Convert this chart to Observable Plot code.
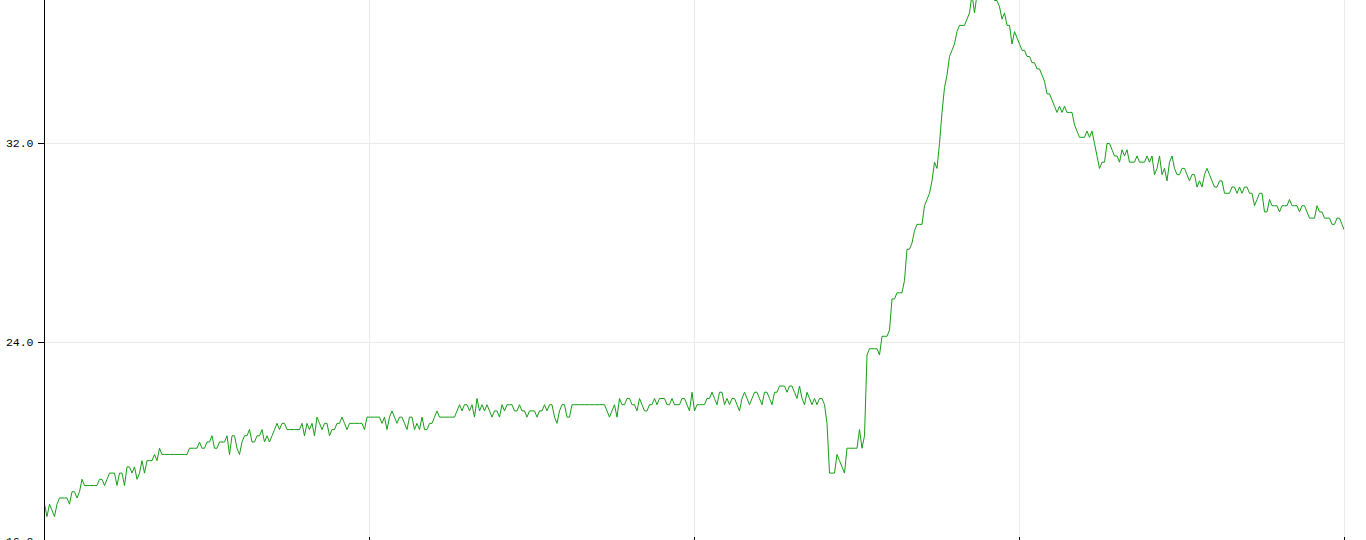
<!DOCTYPE html>
<html><head><meta charset="utf-8">
<script src="https://cdn.jsdelivr.net/npm/d3@7"></script>
<script src="https://cdn.jsdelivr.net/npm/@observablehq/plot@0.6"></script>
<style>html,body{margin:0;padding:0;background:#fff;overflow:hidden}</style>
</head><body><div id="chart"></div>
<script>
// temperature readings, one per sample
const temps = [
17.5,17,17.5,17.25,17,17.5,17.75,17.75,17.75,17.75,
17.5,18,18,17.75,18,18.5,18.25,18.25,18.25,18.25,
18.25,18.25,18.5,18.5,18.25,18.5,18.75,18.75,18.75,18.25,
18.75,18.75,18.25,19,19,18.75,19,18.5,18.75,19.25,
18.75,19.25,19.25,19.25,19.5,19.25,19.75,19.5,19.5,19.5,
19.5,19.5,19.5,19.5,19.5,19.5,19.5,19.5,19.75,19.75,
19.75,19.75,20,19.75,19.75,20,20,20.25,19.75,19.75,
20,20,20,20.25,19.5,20.25,20.25,19.75,19.5,20,
20.25,20.25,20.5,20,20,20.25,20.25,20.5,20,20.25,
20,20.25,20.5,20.75,20.5,20.75,20.75,20.5,20.5,20.5,
20.5,20.5,20.5,20.75,20.25,20.75,20.5,20.75,20.25,21,
20.75,20.5,20.75,20.75,20.25,20.5,20.5,20.75,20.75,21,
20.75,20.5,20.75,20.75,20.75,20.75,20.75,20.75,20.5,21,
21,21,21,21,21,20.75,21,20.5,21,21.25,
21,20.75,21,21,20.75,20.5,21,21,20.5,20.75,
20.5,21,20.5,20.5,20.75,20.75,21,21.25,21,21,
21,21,21,21,21,21.25,21.5,21.25,21.5,21.5,
21.25,21.5,21,21.75,21.25,21.5,21.25,21.5,21.25,21,
21.25,21.25,21,21.5,21.25,21.5,21.5,21.5,21.25,21.25,
21.5,21.25,21.25,21,21.25,21.25,21.25,21,21.25,21.25,
21.5,21.25,21.5,21.5,21,20.75,21.25,21.5,21.5,21,
21,21.5,21.5,21.5,21.5,21.5,21.5,21.5,21.5,21.5,
21.5,21.5,21.5,21.5,21.5,21.25,21,21.25,21.5,21,
21.75,21.5,21.5,21.75,21.75,21.5,21.5,21.25,21.75,21.5,
21.25,21.25,21.5,21.5,21.75,21.5,21.75,21.75,21.75,21.5,
21.5,21.75,21.5,21.5,21.5,21.75,21.75,21.5,21.25,22,
21.25,21.5,21.5,21.5,21.5,21.75,21.75,22,21.75,21.5,
22,22,21.5,21.75,21.5,21.75,21.75,21.5,21.25,21.75,
22,21.75,21.5,21.75,22,22,21.75,21.5,22,22,
21.75,21.5,22,22,22.25,22.25,22.25,22,22.25,22.25,
22,21.75,22.25,21.75,21.5,22,21.75,21.5,21.75,21.5,
21.75,21.75,21.5,20.75,18.75,18.75,18.75,19.5,19.25,19,
18.75,19.75,19.75,19.75,19.75,19.75,20.5,19.75,20.25,23.5,
23.75,23.75,23.75,23.75,23.5,24.25,24.25,24.25,24.5,25.75,
25.75,26,26,26,26.5,27.75,27.75,28,28.5,28.75,
28.75,28.75,29.5,29.75,30,30.5,31.25,31,32,33.25,
34.25,34.75,35.5,35.75,36,36.5,36.75,36.75,36.75,37,
37.25,38,37.25,38,38.25,38.5,38.5,38.5,38.25,38,
37.75,37.75,37.5,37,37.25,36.75,36.75,36,36.5,36.25,
36,35.75,35.75,35.5,35.5,35.25,35.25,35,35,34.75,
34.5,34,34,33.75,33.5,33.25,33.5,33.25,33.5,33.25,
33.25,33.25,32.75,32.5,32.25,32.25,32.25,32.5,32.25,32.5,
32,31.5,31,31.25,31.25,32,32,31.75,31.5,31.5,
31.25,31.75,31.5,31.75,31.25,31.25,31.25,31.5,31.25,31.25,
31.25,31.5,31.25,31.5,30.75,31,31.5,30.75,31,30.5,
31.25,31.5,31,30.75,30.75,31,31,30.75,30.5,30.75,
30.75,30.25,30.5,30.25,30.75,31,30.75,30.5,30.25,30.25,
30.5,30.5,30,30,30,30.25,30.25,30,30.25,30,
30.25,30.25,30,30,29.5,29.75,30,30,29.25,29.25,
29.75,29.5,29.5,29.5,29.25,29.5,29.5,29.5,29.75,29.5,
29.5,29.5,29.25,29.5,29.5,29.25,29,29,29,29.5,
29.25,29.25,29,29,29,28.75,28.75,29,29,28.75,
28.5
];
const xTicks = [0, 130, 260, 390, 520];
const yTicks = [16, 24, 32];
const yDomain = [16, 37.75];

const data = temps.map((v, i) => ({i, v}));

const chart = Plot.plot({
  width: 1366,
  height: 575,
  marginTop: 0,
  marginLeft: 44,
  marginRight: 22,
  marginBottom: 34,
  style: {fontFamily: "'Liberation Mono', 'DejaVu Sans Mono', monospace", fontSize: "11.5px", background: "#fff", color: "#000"},
  x: {domain: [0, temps.length - 1], axis: null},
  y: {domain: yDomain, axis: null},
  marks: [
    Plot.gridX(xTicks, {stroke: "#ebebeb", strokeOpacity: 1}),
    Plot.gridY(yTicks, {stroke: "#ebebeb", strokeOpacity: 1}),
    Plot.lineY(data, {x: "i", y: "v", stroke: "#159c15", strokeWidth: 1, clip: true}),
    Plot.ruleX([0], {stroke: "#000"}),
    Plot.axisY(yTicks, {label: null, tickSize: 6, tickPadding: 5, tickFormat: d3.format(".1f"), stroke: "#000", fill: "#000"}),
    Plot.ruleX(xTicks, {insetTop: 537, stroke: "#000"})
  ]
});
document.getElementById("chart").appendChild(chart);
</script>
</body></html>
